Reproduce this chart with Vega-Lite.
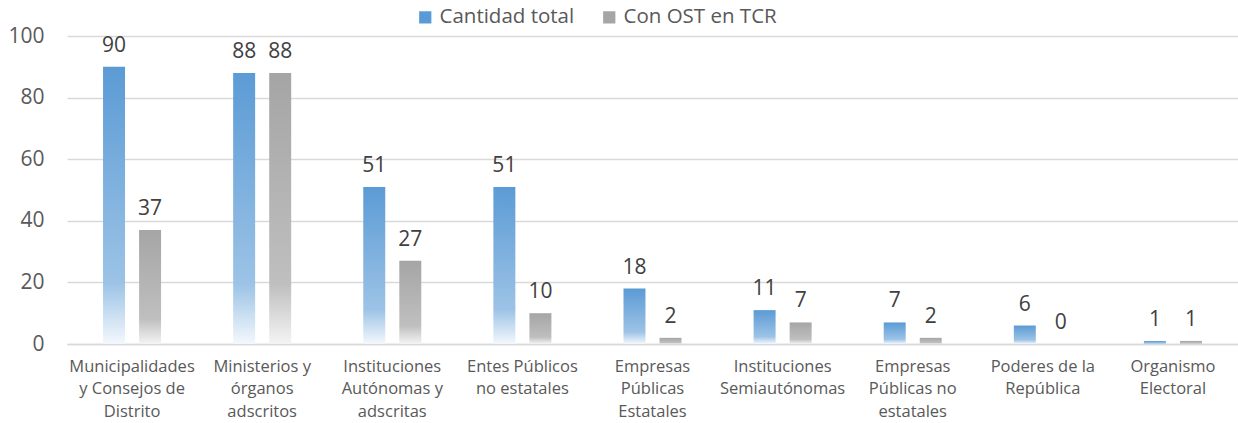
{
  "$schema": "https://vega.github.io/schema/vega-lite/v6.json",
  "autosize": {"type": "none"},
  "padding": {"left": 67, "top": 36, "right": 0, "bottom": 79},
  "width": 1171,
  "height": 308,
  "background": "white",
  "config": {
    "font": "Open Sans",
    "view": {"stroke": null},
    "axis": {"labelFont": "Open Sans", "titleFont": "Open Sans"},
    "legend": {"labelFont": "Open Sans"}
  },
  "data": {
    "values": [
      {"cat": "Municipalidades|y Consejos de|Distrito", "serie": "Cantidad total", "valor": 90},
      {"cat": "Municipalidades|y Consejos de|Distrito", "serie": "Con OST en TCR", "valor": 37},
      {"cat": "Ministerios y|órganos|adscritos", "serie": "Cantidad total", "valor": 88},
      {"cat": "Ministerios y|órganos|adscritos", "serie": "Con OST en TCR", "valor": 88},
      {"cat": "Instituciones|Autónomas y|adscritas", "serie": "Cantidad total", "valor": 51},
      {"cat": "Instituciones|Autónomas y|adscritas", "serie": "Con OST en TCR", "valor": 27},
      {"cat": "Entes Públicos|no estatales", "serie": "Cantidad total", "valor": 51},
      {"cat": "Entes Públicos|no estatales", "serie": "Con OST en TCR", "valor": 10},
      {"cat": "Empresas|Públicas|Estatales", "serie": "Cantidad total", "valor": 18},
      {"cat": "Empresas|Públicas|Estatales", "serie": "Con OST en TCR", "valor": 2},
      {"cat": "Instituciones|Semiautónomas", "serie": "Cantidad total", "valor": 11},
      {"cat": "Instituciones|Semiautónomas", "serie": "Con OST en TCR", "valor": 7},
      {"cat": "Empresas|Públicas no|estatales", "serie": "Cantidad total", "valor": 7},
      {"cat": "Empresas|Públicas no|estatales", "serie": "Con OST en TCR", "valor": 2},
      {"cat": "Poderes de la|República", "serie": "Cantidad total", "valor": 6},
      {"cat": "Poderes de la|República", "serie": "Con OST en TCR", "valor": 0},
      {"cat": "Organismo|Electoral", "serie": "Cantidad total", "valor": 1},
      {"cat": "Organismo|Electoral", "serie": "Con OST en TCR", "valor": 1}
    ]
  },
  "encoding": {
    "x": {
      "field": "cat", "type": "nominal", "sort": null,
      "scale": {"paddingInner": 0, "paddingOuter": 0},
      "axis": {
        "title": null, "labelAngle": 0, "ticks": false,
        "domainColor": "#d9d9d9", "domainWidth": 1.5,
        "labelExpr": "split(datum.label, '|')",
        "labelFontSize": 16.5, "labelColor": "#595959", "labelPadding": 14,
        "labelLineHeight": 22.5, "labelBaseline": "top"
      }
    },
    "xOffset": {
      "field": "serie", "type": "nominal",
      "scale": {"domain": ["Cantidad total", "Con OST en TCR"], "paddingInner": 0.39, "paddingOuter": 1}
    },
    "y": {
      "field": "valor", "type": "quantitative",
      "scale": {"domain": [0, 100]},
      "axis": {
        "title": null, "values": [0, 20, 40, 60, 80, 100], "domain": false, "ticks": false,
        "gridColor": "#d9d9d9", "gridWidth": 1.3,
        "labelFontSize": 21, "labelColor": "#595959", "labelPadding": 23
      }
    }
  },
  "layer": [
    {
      "transform": [{"filter": "datum.serie === 'Cantidad total'"}],
      "mark": {"type": "bar",
        "fill": {"gradient": "linear", "x1": 0, "y1": 0, "x2": 0, "y2": 1,
          "stops": [{"offset": 0, "color": "#5b9bd5"}, {"offset": 0.78, "color": "#9cc3e6"}, {"offset": 1, "color": "#f4f8fd"}]}}
    },
    {
      "transform": [{"filter": "datum.serie === 'Con OST en TCR'"}],
      "mark": {"type": "bar",
        "fill": {"gradient": "linear", "x1": 0, "y1": 0, "x2": 0, "y2": 1,
          "stops": [{"offset": 0, "color": "#a5a5a5"}, {"offset": 0.78, "color": "#bfbfbf"}, {"offset": 1, "color": "#f4f4f4"}]}}
    },
    {
      "mark": {"type": "point", "filled": true, "opacity": 0},
      "encoding": {
        "color": {
          "field": "serie", "type": "nominal",
          "scale": {"domain": ["Cantidad total", "Con OST en TCR"], "range": ["#5b9bd5", "#a5a5a5"]},
          "legend": {
            "title": null, "orient": "none", "legendX": 348, "legendY": -29,
            "direction": "horizontal", "symbolType": "square", "symbolSize": 150,
            "symbolOpacity": 1, "labelFontSize": 20.5, "labelColor": "#595959", "columnPadding": 24,
            "symbolStrokeWidth": 0
          }
        }
      }
    },
    {
      "mark": {"type": "text", "baseline": "bottom", "dy": -11, "fontSize": 21, "color": "#404040"},
      "encoding": {"text": {"field": "valor", "type": "quantitative"}}
    }
  ]
}
